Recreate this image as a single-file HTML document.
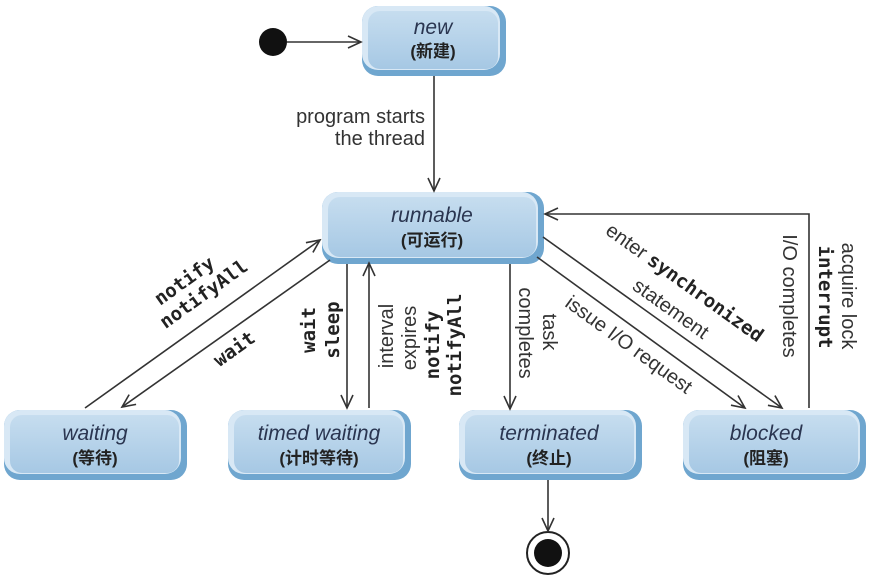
<!DOCTYPE html>
<html><head><meta charset="utf-8"><style>
html,body{margin:0;padding:0;background:#fff;}
svg{display:block;}
.st{font-family:"Liberation Sans","DejaVu Sans",sans-serif;font-style:italic;font-size:21px;fill:#2a3550;}
.cn{font-family:"Liberation Sans","Noto Sans CJK SC",sans-serif;font-weight:bold;font-size:17px;fill:#222;}
.lb{font-family:"Liberation Sans","DejaVu Sans",sans-serif;font-size:20px;fill:#333;}
.mo{font-family:"DejaVu Sans Mono","Liberation Mono",monospace;font-weight:bold;font-size:19px;fill:#222;}
</style></head><body>
<svg width="877" height="581" viewBox="0 0 877 581" xmlns="http://www.w3.org/2000/svg">
<defs>
<linearGradient id="g" x1="0" y1="0" x2="0" y2="1">
<stop offset="0" stop-color="#c6ddef"/><stop offset="1" stop-color="#a6c8e4"/>
</linearGradient>
<marker id="a" markerWidth="16" markerHeight="16" refX="14" refY="8" orient="auto" markerUnits="userSpaceOnUse">
<path d="M1,2 L14,8 L1,14" fill="none" stroke="#333" stroke-width="1.6"/>
</marker>
</defs>
<g fill="#6fa6cf">
<rect x="362" y="6" width="144" height="70" rx="16"/>
<rect x="322" y="192" width="222" height="72" rx="16"/>
<rect x="4" y="410" width="183" height="70" rx="16"/>
<rect x="228" y="410" width="183" height="70" rx="16"/>
<rect x="459" y="410" width="183" height="70" rx="16"/>
<rect x="683" y="410" width="183" height="70" rx="16"/>
</g>
<g fill="#d8e8f5">
<rect x="362" y="6" width="138" height="64" rx="16"/>
<rect x="322" y="192" width="216" height="66" rx="16"/>
<rect x="4" y="410" width="177" height="64" rx="16"/>
<rect x="228" y="410" width="177" height="64" rx="16"/>
<rect x="459" y="410" width="177" height="64" rx="16"/>
<rect x="683" y="410" width="177" height="64" rx="16"/>
</g>
<g fill="url(#g)">
<rect x="368" y="11" width="130" height="58" rx="12"/>
<rect x="328" y="197" width="208" height="60" rx="12"/>
<rect x="10" y="415" width="169" height="58" rx="12"/>
<rect x="234" y="415" width="169" height="58" rx="12"/>
<rect x="465" y="415" width="169" height="58" rx="12"/>
<rect x="689" y="415" width="169" height="58" rx="12"/>
</g>
<text class="st" x="433" y="34" text-anchor="middle">new</text>
<text class="cn" x="433" y="57" text-anchor="middle">(新建)</text>
<text class="st" x="432" y="222" text-anchor="middle">runnable</text>
<text class="cn" x="432" y="246" text-anchor="middle">(可运行)</text>
<text class="st" x="95" y="440" text-anchor="middle">waiting</text>
<text class="cn" x="95" y="464" text-anchor="middle">(等待)</text>
<text class="st" x="319" y="440" text-anchor="middle">timed waiting</text>
<text class="cn" x="319" y="464" text-anchor="middle">(计时等待)</text>
<text class="st" x="549" y="440" text-anchor="middle">terminated</text>
<text class="cn" x="549" y="464" text-anchor="middle">(终止)</text>
<text class="st" x="766" y="440" text-anchor="middle">blocked</text>
<text class="cn" x="766" y="464" text-anchor="middle">(阻塞)</text>

<circle cx="273" cy="42" r="14" fill="#111"/>
<circle cx="548" cy="553" r="21" fill="#fff" stroke="#222" stroke-width="2"/>
<circle cx="548" cy="553" r="14" fill="#111"/>

<g stroke="#333" stroke-width="1.6" fill="none">
<line x1="287" y1="42" x2="361" y2="42" marker-end="url(#a)"/>
<line x1="434" y1="76" x2="434" y2="191" marker-end="url(#a)"/>
<line x1="85" y1="408" x2="320" y2="240" marker-end="url(#a)"/>
<line x1="330" y1="260" x2="122" y2="407" marker-end="url(#a)"/>
<line x1="347" y1="264" x2="347" y2="408" marker-end="url(#a)"/>
<line x1="369" y1="408" x2="369" y2="263" marker-end="url(#a)"/>
<line x1="510" y1="264" x2="510" y2="409" marker-end="url(#a)"/>
<line x1="537" y1="257" x2="745" y2="408" marker-end="url(#a)"/>
<line x1="543" y1="237" x2="782" y2="408" marker-end="url(#a)"/>
<polyline points="809,408 809,214 545,214" marker-end="url(#a)"/>
<line x1="548" y1="480" x2="548" y2="531" marker-end="url(#a)"/>
</g>

<text class="lb" x="425" y="123" text-anchor="end">program starts</text>
<text class="lb" x="425" y="145" text-anchor="end">the thread</text>

<g transform="translate(188,286) rotate(-35.6)"><text class="mo" text-anchor="middle" x="0" y="0">notify</text><text class="mo" text-anchor="middle" x="8" y="22">notifyAll</text></g>
<g transform="translate(238,354) rotate(-35.6)"><text class="mo" text-anchor="middle">wait</text></g>

<g transform="rotate(-90)"><text class="mo" x="-330" y="315" text-anchor="middle">wait</text><text class="mo" x="-330" y="339" text-anchor="middle">sleep</text></g>
<g transform="rotate(-90)">
<text class="lb" x="-336" y="393" text-anchor="middle">interval</text>
<text class="lb" x="-338" y="416" text-anchor="middle">expires</text>
<text class="mo" x="-345" y="439" text-anchor="middle">notify</text>
<text class="mo" x="-345" y="461" text-anchor="middle">notifyAll</text>
</g>
<g transform="rotate(90)">
<text class="lb" x="332" y="-543" text-anchor="middle">task</text>
<text class="lb" x="333" y="-519" text-anchor="middle">completes</text>
<text class="lb" x="296" y="-783" text-anchor="middle">I/O completes</text>
<text class="mo" x="297" y="-819" text-anchor="middle">interrupt</text>
<text class="lb" x="296" y="-842" text-anchor="middle">acquire lock</text>
</g>
<g transform="translate(681,288) rotate(35.6)"><text text-anchor="middle"><tspan class="lb">enter </tspan><tspan class="mo">synchronized</tspan></text></g>
<g transform="translate(667,314) rotate(35.6)"><text class="lb" text-anchor="middle">statement</text></g>
<g transform="translate(625,350) rotate(36)"><text class="lb" text-anchor="middle">issue I/O request</text></g>
</svg>
</body></html>
